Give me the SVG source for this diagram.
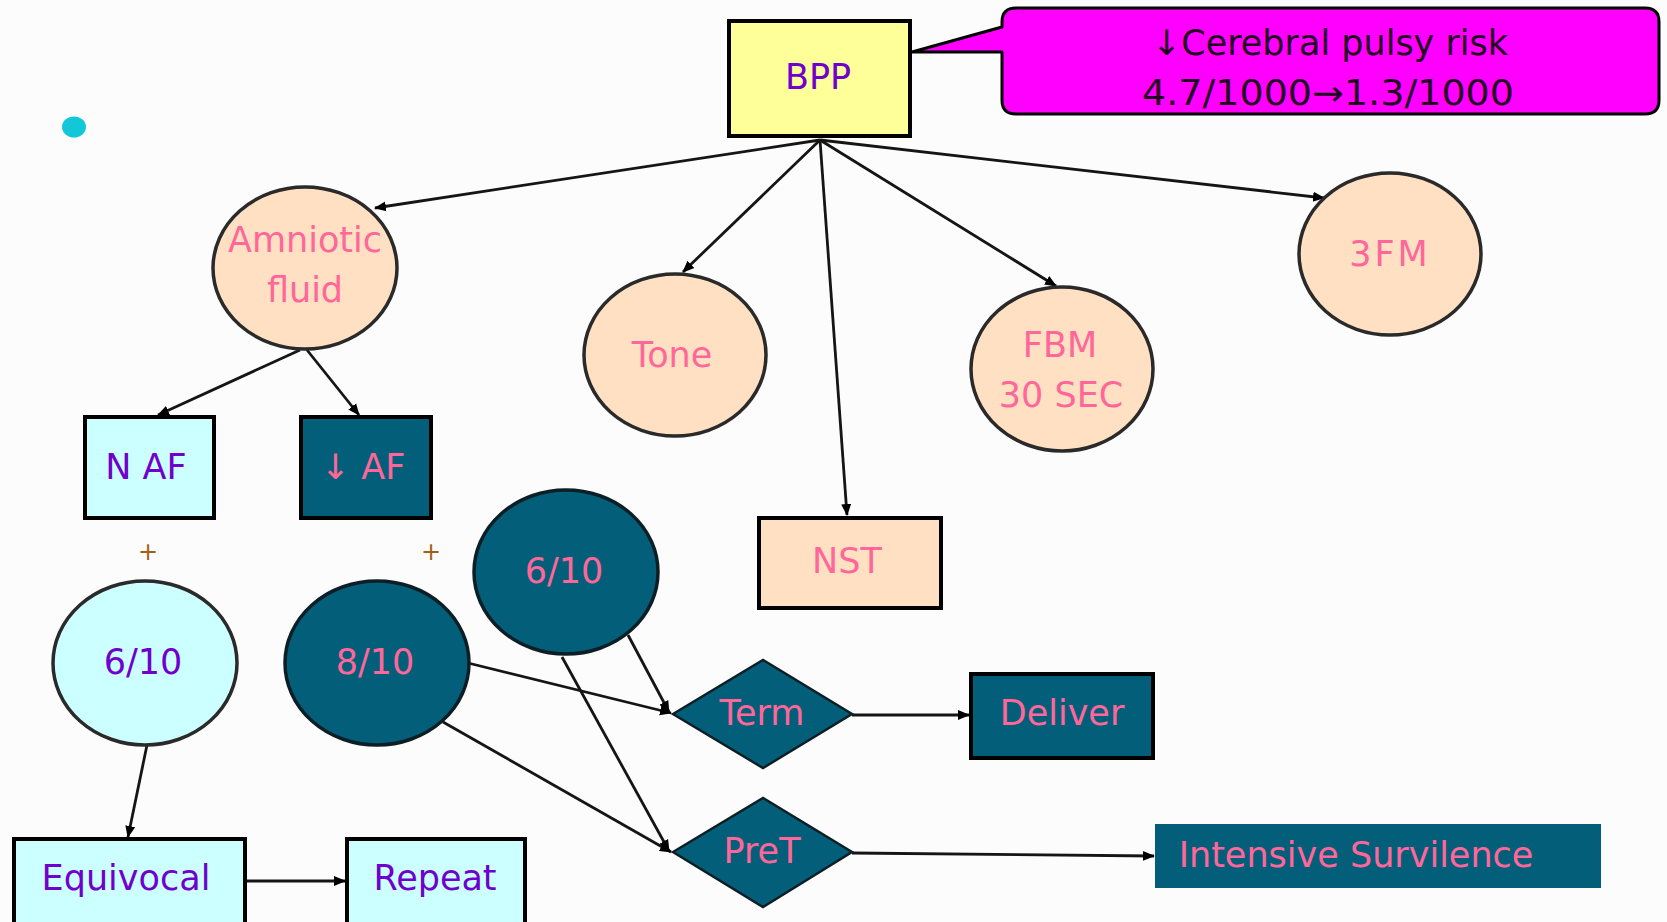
<svg xmlns="http://www.w3.org/2000/svg" width="1667" height="922" viewBox="0 0 1667 922">
  <style>
    text { font-family: "DejaVu Sans", "Liberation Sans", sans-serif; font-size: 35px; text-anchor: middle; }
    .pink { fill: #ff6699; }
    .purple { fill: #7000cc; }
    .dark { fill: #220022; }
    .peach { fill: #ffe0c2; stroke: #2a2a2a; stroke-width: 3.5; }
    .cyan { fill: #ccffff; stroke: #2a2a2a; stroke-width: 3.5; }
    .teal { fill: #035f79; stroke: #0d1f26; stroke-width: 3.5; }
    .box { stroke: #000; stroke-width: 4; }
    .link { fill: none; stroke: #151515; stroke-width: 2.8; marker-end: url(#arrow); }
    .plus { font-size: 24px; fill: #a0601a; }
  </style>
  <defs>
    <marker id="arrow" markerUnits="userSpaceOnUse" markerWidth="12" markerHeight="12" viewBox="0 0 12 12" refX="11" refY="6" orient="auto">
      <path d="M0,1 L12,6 L0,11 Z" fill="#000"/>
    </marker>
  </defs>

  <rect x="0" y="0" width="1667" height="922" fill="#fcfcfc"/>

  <!-- bullet dot -->
  <ellipse cx="74" cy="127" rx="12" ry="10.5" fill="#12c8d8"/>

  <!-- connectors -->
  <g id="connectors">
    <line class="link" x1="820" y1="140" x2="375" y2="208"/>
    <line class="link" x1="820" y1="140" x2="683" y2="272"/>
    <line class="link" x1="820" y1="140" x2="847" y2="515"/>
    <line class="link" x1="820" y1="140" x2="1056" y2="286"/>
    <line class="link" x1="820" y1="140" x2="1324" y2="198"/>
    <line class="link" x1="300" y1="350" x2="158" y2="415"/>
    <line class="link" x1="307" y1="350" x2="359" y2="415"/>
    <line class="link" x1="147" y1="745" x2="128" y2="837"/>
    <line class="link" x1="245" y1="881" x2="345" y2="881"/>
    <line class="link" x1="468" y1="663" x2="671" y2="713"/>
    <line class="link" x1="628" y1="635" x2="669" y2="712"/>
    <line class="link" x1="443" y1="722" x2="671" y2="852"/>
    <line class="link" x1="562" y1="657" x2="669" y2="851"/>
    <line class="link" x1="852" y1="715" x2="969" y2="715"/>
    <line class="link" x1="852" y1="853" x2="1154" y2="856"/>
  </g>

  <!-- BPP root -->
  <g id="bpp">
    <rect class="box" x="729" y="21" width="181" height="115" fill="#ffff99"/>
    <text class="purple" x="818" y="89">BPP</text>
  </g>

  <!-- callout -->
  <g id="callout">
    <path d="M1016,8 H1645 Q1659,8 1659,22 V100 Q1659,114 1645,114 H1016 Q1002,114 1002,100 V52 L912,52 L1002,27 V22 Q1002,8 1016,8 Z" fill="#ff00ff" stroke="#000" stroke-width="3" stroke-linejoin="round"/>
    <text class="dark" x="1330" y="55">↓Cerebral pulsy risk</text>
    <text class="dark" x="1328" y="105" textLength="372" lengthAdjust="spacingAndGlyphs">4.7/1000→1.3/1000</text>
  </g>

  <g id="amniotic">
    <ellipse class="peach" cx="305" cy="268" rx="92" ry="81"/>
    <text class="pink" x="305" y="252">Amniotic</text>
    <text class="pink" x="305" y="302">fluid</text>
  </g>

  <g id="tone">
    <ellipse class="peach" cx="675" cy="355" rx="91" ry="81"/>
    <text class="pink" x="672" y="367">Tone</text>
  </g>

  <g id="nst">
    <rect class="box" x="759" y="518" width="182" height="90" fill="#ffe0c2"/>
    <text class="pink" x="847" y="573">NST</text>
  </g>

  <g id="fbm">
    <ellipse class="peach" cx="1062" cy="369" rx="91" ry="82"/>
    <text class="pink" x="1060" y="357">FBM</text>
    <text class="pink" x="1061" y="407">30 SEC</text>
  </g>

  <g id="fm3">
    <ellipse class="peach" cx="1390" cy="254" rx="91" ry="81"/>
    <text class="pink" x="1390" y="266" letter-spacing="3">3FM</text>
  </g>

  <g id="naf">
    <rect class="box" x="85" y="417" width="129" height="101" fill="#ccffff"/>
    <text class="purple" x="146" y="479">N AF</text>
  </g>

  <g id="laf">
    <rect class="box" x="301" y="417" width="130" height="101" fill="#035f79"/>
    <text class="pink" x="363" y="479">↓ AF</text>
  </g>

  <text class="plus" x="148" y="560">+</text>
  <text class="plus" x="431" y="560">+</text>

  <g id="score6-normal">
    <ellipse class="cyan" cx="145" cy="663" rx="92" ry="82"/>
    <text class="purple" x="143" y="674">6/10</text>
  </g>

  <g id="score8">
    <ellipse class="teal" cx="377" cy="663" rx="92" ry="82"/>
    <text class="pink" x="375" y="674">8/10</text>
  </g>

  <g id="score6-low">
    <ellipse class="teal" cx="566" cy="572" rx="92" ry="82"/>
    <text class="pink" x="564" y="583">6/10</text>
  </g>

  <g id="equivocal">
    <rect class="box" x="14" y="839" width="231" height="100" fill="#ccffff"/>
    <text class="purple" x="126" y="890">Equivocal</text>
  </g>

  <g id="repeat">
    <rect class="box" x="347" y="839" width="178" height="100" fill="#ccffff"/>
    <text class="purple" x="435" y="890">Repeat</text>
  </g>

  <g id="term">
    <polygon points="673,714 763,660 852,714 763,768" fill="#035f79" stroke="#0d1f26" stroke-width="2.5"/>
    <text class="pink" x="762" y="725">Term</text>
  </g>

  <g id="deliver">
    <rect class="box" x="971" y="674" width="182" height="84" fill="#035f79"/>
    <text class="pink" x="1062" y="725">Deliver</text>
  </g>

  <g id="pret">
    <polygon points="673,852 763,798 852,852 763,907" fill="#035f79" stroke="#0d1f26" stroke-width="2.5"/>
    <text class="pink" x="762" y="863">PreT</text>
  </g>

  <g id="intensive">
    <rect x="1155" y="824" width="446" height="64" fill="#035f79"/>
    <text class="pink" x="1356" y="867">Intensive Survilence</text>
  </g>
</svg>
